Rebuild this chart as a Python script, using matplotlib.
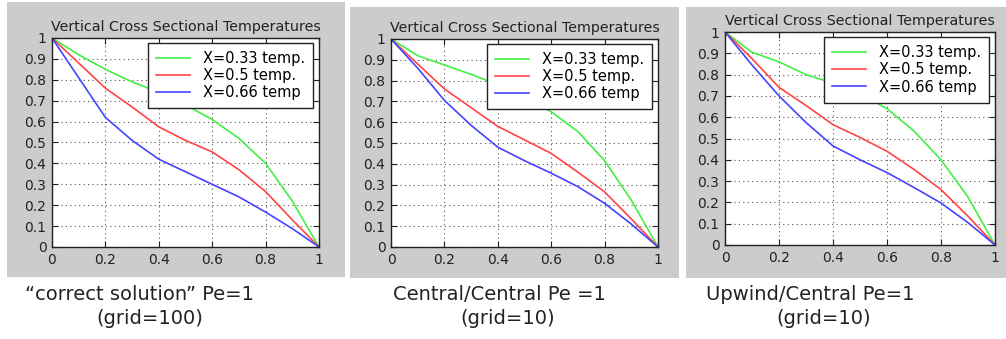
#!/usr/bin/env python
# -*- coding: utf-8 -*-

""" Three MATLAB-style temperature profile panels """

import matplotlib
matplotlib.use("Agg")
import matplotlib.pyplot as plt
from matplotlib.patches import Rectangle

X_POS = [0.0, 0.1, 0.2, 0.3, 0.4, 0.5, 0.6, 0.7, 0.8, 0.9, 1.0]

# "correct solution" Pe=1 (grid=100)
P1_GREEN = [1, 0.92, 0.85, 0.79, 0.74, 0.68, 0.61, 0.52, 0.40, 0.22, 0]
P1_RED = [1, 0.88, 0.76, 0.67, 0.575, 0.51, 0.455, 0.37, 0.265, 0.13, 0]
P1_BLUE = [1, 0.81, 0.62, 0.51, 0.42, 0.36, 0.30, 0.24, 0.167, 0.088, 0]

# Central/Central Pe=1 (grid=10)
P2_GREEN = [1, 0.92, 0.875, 0.83, 0.78, 0.72, 0.65, 0.555, 0.415, 0.225, 0]
P2_RED = [1, 0.88, 0.76, 0.67, 0.58, 0.515, 0.45, 0.36, 0.265, 0.135, 0]
P2_BLUE = [1, 0.86, 0.705, 0.585, 0.48, 0.415, 0.355, 0.29, 0.21, 0.11, 0]

# Upwind/Central Pe=1 (grid=10)
P3_GREEN = [1, 0.905, 0.86, 0.80, 0.76, 0.71, 0.64, 0.535, 0.40, 0.225, 0]
P3_RED = [1, 0.875, 0.74, 0.655, 0.565, 0.505, 0.44, 0.355, 0.26, 0.135, 0]
P3_BLUE = [1, 0.845, 0.70, 0.575, 0.465, 0.40, 0.34, 0.27, 0.197, 0.105, 0]

LABELS = ["X=0.33 temp.", "X=0.5 temp.", "X=0.66 temp"]
COLORS = ["#44ee44", "#ff4444", "#4444ff"]
TITLE = "Vertical Cross Sectional Temperatures"
CAPTIONS = [
    ("\u201ccorrect solution\u201d Pe=1", "(grid=100)"),
    ("Central/Central Pe =1", "(grid=10)"),
    ("Upwind/Central Pe=1", "(grid=10)"),
]

W, H = 1006, 339
# pixel boxes: grey panel (x0, y0, x1, y1), axes (left, top, right, bottom)
PANELS = [(7, 2, 345, 277), (350, 7, 679, 278), (686, 7, 1006, 278)]
AXES = [(52, 38, 319, 247), (391, 39, 658, 247), (725, 32, 995, 245)]
CAPTION_X = [(25, 150), (393, 508), (706, 824)]


def draw_panel(fig, panel, box, series, caption, cx):
    """ Draw one grey MATLAB figure with its caption """
    x0, y0, x1, y1 = panel
    fig.add_artist(Rectangle((x0 / W, 1 - y1 / H), (x1 - x0) / W, (y1 - y0) / H,
                             transform=fig.transFigure, facecolor="#cccccc",
                             edgecolor="none", zorder=0))
    left, top, right, bottom = box
    ax = fig.add_axes([left / W, 1 - bottom / H, (right - left) / W,
                       (bottom - top) / H])
    ax.set_zorder(2)
    for ys, color, label in zip(series, COLORS, LABELS):
        ax.plot(X_POS, ys, color=color, lw=1.2, label=label)
    ax.set_xlim(0, 1)
    ax.set_ylim(0, 1)
    ax.set_xticks([0, 0.2, 0.4, 0.6, 0.8, 1])
    ax.set_xticklabels(["0", "0.2", "0.4", "0.6", "0.8", "1"])
    ax.set_yticks([i / 10 for i in range(11)])
    ax.set_yticklabels(["0"] + [f"0.{i}" for i in range(1, 10)] + ["1"])
    ax.tick_params(direction="in", top=True, right=True, length=4,
                   labelsize=10, pad=4, colors="#222222")
    ax.grid(True, color="#555555", linestyle=(0, (1, 3)), lw=0.8)
    for sp in ax.spines.values():
        sp.set_linewidth(1.0)
        sp.set_color("#222222")
    ax.set_title(TITLE, fontsize=10.3, pad=5, color="#222222")
    leg = ax.legend(loc="upper right", bbox_to_anchor=(0.977, 0.976),
                    fontsize=10.5, handlelength=2.3, handletextpad=0.9,
                    labelspacing=0.15, borderpad=0.55, borderaxespad=0,
                    fancybox=False, framealpha=1, edgecolor="#222222")
    leg.get_frame().set_linewidth(1.0)

    line1, line2 = caption
    left_x, center_x = cx
    fig.text(left_x / W, 1 - 294 / H, line1, ha="left", va="center",
             fontsize=14, color="#222222")
    fig.text(center_x / W, 1 - 319 / H, line2, ha="center", va="center",
             fontsize=14, color="#222222")


def main() -> None:
    """ Main function """
    fig = plt.figure(figsize=(W / 100, H / 100), dpi=100)
    fig.patch.set_facecolor("white")
    all_series = [
        (P1_GREEN, P1_RED, P1_BLUE),
        (P2_GREEN, P2_RED, P2_BLUE),
        (P3_GREEN, P3_RED, P3_BLUE),
    ]
    for panel, box, series, caption, cx in zip(PANELS, AXES, all_series,
                                               CAPTIONS, CAPTION_X):
        draw_panel(fig, panel, box, series, caption, cx)
    fig.savefig("out.png", dpi=100)


if __name__ == "__main__":
    main()
